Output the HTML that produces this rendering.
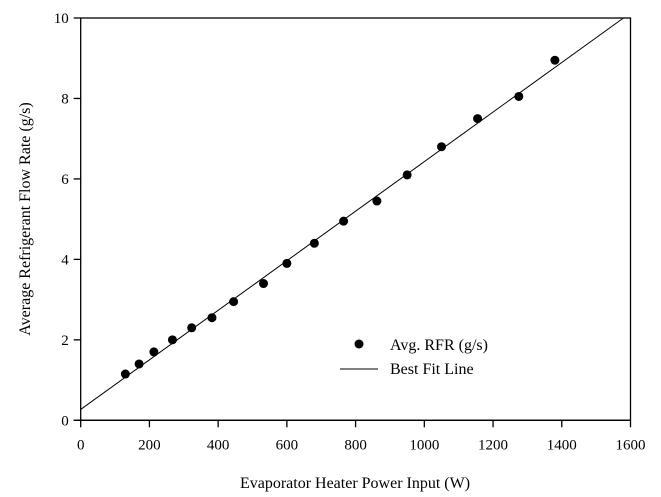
<!DOCTYPE html>
<html><head><meta charset="utf-8"><style>body{margin:0;background:#fff}svg{display:block}text{font-family:"Liberation Serif",serif;fill:#000}</style></head>
<body>
<svg width="661" height="497" xmlns="http://www.w3.org/2000/svg">
<g id="axes"></g><g id="marks"></g>
<text x="355" y="488" font-size="16" text-anchor="middle">Evaporator Heater Power Input (W)</text>
<text transform="translate(30,219) rotate(-90)" font-size="16" text-anchor="middle">Average Refrigerant Flow Rate (g/s)</text>
<circle cx="359" cy="344" r="4.5" fill="#000"/>
<text x="390" y="350" font-size="16">Avg. RFR (g/s)</text>
<line x1="340" y1="369" x2="378" y2="369" stroke="#000" stroke-width="1"/>
<text x="390" y="374" font-size="16">Best Fit Line</text>
<script>
const xTicks=[0,200,400,600,800,1000,1200,1400,1600];
const yTicks=[0,2,4,6,8,10];
const powerW=[130,170,213,267,323,382,445,532,600,680,765,862,950,1050,1155,1275,1380];
const rfr=[1.15,1.4,1.7,2.0,2.3,2.55,2.95,3.4,3.9,4.4,4.95,5.45,6.1,6.8,7.5,8.05,8.95];
const fitIntercept=0.27, fitSlope=0.00616;
const NS="http://www.w3.org/2000/svg";
const X0=80.7,X1=630.5,Y0=420.3,Y1=18;
const sx=v=>X0+(v-0)/1600*(X1-X0);
const sy=v=>Y0-(v-0)/10*(Y0-Y1);
const ax=document.getElementById('axes'),mk=document.getElementById('marks');
function el(t,a,p){const e=document.createElementNS(NS,t);for(const k in a)e.setAttribute(k,a[k]);p.appendChild(e);return e;}
const fr=el('rect',{x:X0,y:Y1,width:X1-X0,height:Y0-Y1,fill:'none',stroke:'#000','stroke-width':1.3},ax);


const xl=el('line',{x1:X0-7,y1:Y0,x2:X1,y2:Y0,stroke:'#000','stroke-width':1.3},ax);


xTicks.forEach(v=>{
 const t=el('line',{x1:sx(v),y1:Y0,x2:sx(v),y2:Y0+7,stroke:'#000','stroke-width':1.3},ax);
 
 
 const l=el('text',{x:sx(v),y:Y0+29,'font-size':15,'text-anchor':'middle'},ax);l.textContent=v;
 
 
});
yTicks.forEach(v=>{
 const t=el('line',{x1:X0-7,y1:sy(v),x2:X0,y2:sy(v),stroke:'#000','stroke-width':1.3},ax);
 
 
 const l=el('text',{x:X0-12,y:sy(v)+5,'font-size':15,'text-anchor':'end'},ax);l.textContent=v;
 
 
});
const xEnd=(10-fitIntercept)/fitSlope;
const fl=el('line',{x1:sx(0),y1:sy(fitIntercept),x2:sx(xEnd),y2:sy(10),stroke:'#000','stroke-width':1},mk);


powerW.forEach((w,i)=>{
 const c=el('circle',{cx:sx(w),cy:sy(rfr[i]),r:4.5,fill:'#000'},mk);
 
 
});
</script>
</svg>
</body></html>
